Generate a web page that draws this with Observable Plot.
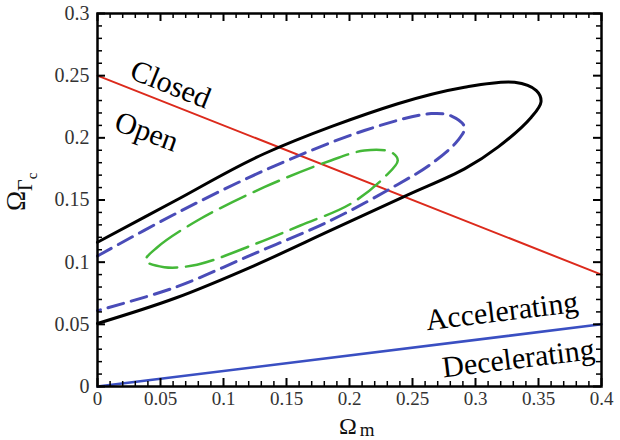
<!DOCTYPE html>
<html>
<head>
<meta charset="utf-8">
<script src="https://cdn.jsdelivr.net/npm/d3@7"></script>
<script src="https://cdn.jsdelivr.net/npm/@observablehq/plot@0.6"></script>
<style>
  html, body { margin: 0; padding: 0; background: #fff; }
  #chart { width: 620px; height: 440px; }
</style>
</head>
<body>
<div id="chart"></div>
<script>
// Axis ticks and labels
const xMajor = [0, 0.05, 0.1, 0.15, 0.2, 0.25, 0.3, 0.35, 0.4];
const xLabels = ["0", "0.05", "0.1", "0.15", "0.2", "0.25", "0.3", "0.35", "0.4"];
const yMajor = [0, 0.05, 0.1, 0.15, 0.2, 0.25, 0.3];
const yLabels = ["0", "0.05", "0.1", "0.15", "0.2", "0.25", "0.3"];
const minorStep = 0.01;

// Confidence contours in the (Ω_m, Ω_Γc) plane
const outerX = [0, 0.062, 0.1323, 0.2383, 0.2913, 0.331, 0.3483, 0.352, 0.3443, 0.3178, 0.2913, 0.245, 0.185, 0.125, 0.062, 0];
const outerY = [0.116, 0.1496, 0.1872, 0.2274, 0.2407, 0.2447, 0.238, 0.229, 0.2166, 0.1925, 0.175, 0.1535, 0.1255, 0.0975, 0.0712, 0.0507];

const middleX = [0, 0.062, 0.1323, 0.2118, 0.2648, 0.281, 0.2913, 0.286, 0.2648, 0.2383, 0.185, 0.124, 0.062, 0];
const middleY = [0.105, 0.139, 0.1737, 0.2059, 0.2195, 0.2175, 0.2086, 0.1979, 0.179, 0.1625, 0.1335, 0.1067, 0.0799, 0.061];

const innerX = [0.0382, 0.0475, 0.0793, 0.1323, 0.1853, 0.2118, 0.233, 0.2383, 0.2277, 0.201, 0.161, 0.1256, 0.079, 0.053];
const innerY = [0.1013, 0.112, 0.1335, 0.1603, 0.1818, 0.1898, 0.1885, 0.1818, 0.1683, 0.147, 0.1295, 0.1148, 0.098, 0.096];

// Dividing lines: open/closed and accelerating/decelerating
const flatX = [0, 0.4];
const flatY = [0.25, 0.09];
const accelX = [0, 0.4];
const accelY = [0, 0.05];

// Region labels
const regionText = ["Closed", "Open", "Accelerating", "Decelerating"];
const regionX = [0.058, 0.039, 0.321, 0.334];
const regionY = [0.243, 0.205, 0.0605, 0.0225];
const regionAngle = [22, 20, -7, -7];

const zip = (xs, ys) => xs.map((x, i) => ({x, y: ys[i]}));
const outer = zip(outerX, outerY);
const middle = zip(middleX, middleY);
const inner = zip(innerX, innerY);
const flat = zip(flatX, flatY);
const accel = zip(accelX, accelY);
const regions = regionText.map((t, i) => ({text: t, x: regionX[i], y: regionY[i], rotate: regionAngle[i]}));

const W = 620, H = 440;
const mL = 97, mR = 19, mT = 13, mB = 54;
const innerH = H - mT - mB;
const innerW = W - mL - mR;

const xMinor = d3.range(0, 0.4 + 1e-9, minorStep).map(v => +v.toFixed(2)).filter(v => !xMajor.some(m => Math.abs(m - v) < 1e-9));
const yMinor = d3.range(0, 0.3 + 1e-9, minorStep).map(v => +v.toFixed(2)).filter(v => !yMajor.some(m => Math.abs(m - v) < 1e-9));

const majorLen = 8, minorLen = 5;
const serif = "Liberation Serif";

const chart = Plot.plot({
  width: W, height: H,
  marginLeft: mL, marginRight: mR, marginTop: mT, marginBottom: mB,
  x: {domain: [0, 0.4]},
  y: {domain: [0, 0.3]},
  style: {fontFamily: serif, fontSize: "20px", color: "#333", background: "#fff"},
  marks: [
    Plot.line(flat, {x: "x", y: "y", stroke: "#dc2a1c", strokeWidth: 2}),
    Plot.line(accel, {x: "x", y: "y", stroke: "#3a4fc2", strokeWidth: 2.5}),
    Plot.line(outer, {x: "x", y: "y", stroke: "#000", strokeWidth: 3, curve: "catmull-rom"}),
    Plot.line(middle, {x: "x", y: "y", stroke: "#4a4cb8", strokeWidth: 3, strokeDasharray: "16,8", curve: "catmull-rom"}),
    Plot.line(inner, {x: "x", y: "y", stroke: "#44b838", strokeWidth: 2.5, strokeDasharray: "28,9", curve: "catmull-rom-closed"}),
    Plot.text(regions, {x: "x", y: "y", text: "text", rotate: "rotate", fontSize: 30, fontFamily: serif, fill: "#000", textAnchor: "middle"}),
    Plot.frame({stroke: "#000", strokeWidth: 2.5}),
    // inward ticks on all four sides
    Plot.tickX(xMajor, {x: d => d, insetTop: innerH - majorLen, stroke: "#000", strokeWidth: 2}),
    Plot.tickX(xMinor, {x: d => d, insetTop: innerH - minorLen, stroke: "#000", strokeWidth: 1.5}),
    Plot.tickX(xMajor, {x: d => d, insetBottom: innerH - majorLen, stroke: "#000", strokeWidth: 2}),
    Plot.tickX(xMinor, {x: d => d, insetBottom: innerH - minorLen, stroke: "#000", strokeWidth: 1.5}),
    Plot.tickY(yMajor, {y: d => d, insetRight: innerW - majorLen, stroke: "#000", strokeWidth: 2}),
    Plot.tickY(yMinor, {y: d => d, insetRight: innerW - minorLen, stroke: "#000", strokeWidth: 1.5}),
    Plot.tickY(yMajor, {y: d => d, insetLeft: innerW - majorLen, stroke: "#000", strokeWidth: 2}),
    Plot.tickY(yMinor, {y: d => d, insetLeft: innerW - minorLen, stroke: "#000", strokeWidth: 1.5}),
    Plot.axisX({ticks: xMajor, tickSize: 0, tickPadding: 5, fontFamily: serif, fontSize: 19, fill: "#333", tickFormat: d => xLabels[xMajor.indexOf(d)], label: null}),
    Plot.axisY({ticks: yMajor, tickSize: 0, tickPadding: 8, fontFamily: serif, fontSize: 20, fill: "#333", tickFormat: d => yLabels[yMajor.indexOf(d)], label: null})
  ]
});

const svg = d3.select(chart);

// x axis title: Ω_m
const xt = svg.append("text")
  .attr("x", 339).attr("y", 434)
  .attr("text-anchor", "start")
  .attr("font-family", serif).attr("font-size", 24).attr("fill", "#111");
xt.append("tspan").text("Ω");
xt.append("tspan").attr("font-size", 19).attr("dx", 3).attr("dy", 2).text("m");

// y axis title: Ω_Γc
const yt = svg.append("text")
  .attr("transform", "translate(25,211) rotate(-90)")
  .attr("text-anchor", "start")
  .attr("font-family", serif).attr("font-size", 27).attr("fill", "#111");
yt.append("tspan").text("Ω");
yt.append("tspan").attr("font-size", 20).attr("dy", 7).text("Γ");
yt.append("tspan").attr("font-size", 15).attr("dy", 5).text("c");

document.getElementById("chart").appendChild(chart);
</script>
</body>
</html>
